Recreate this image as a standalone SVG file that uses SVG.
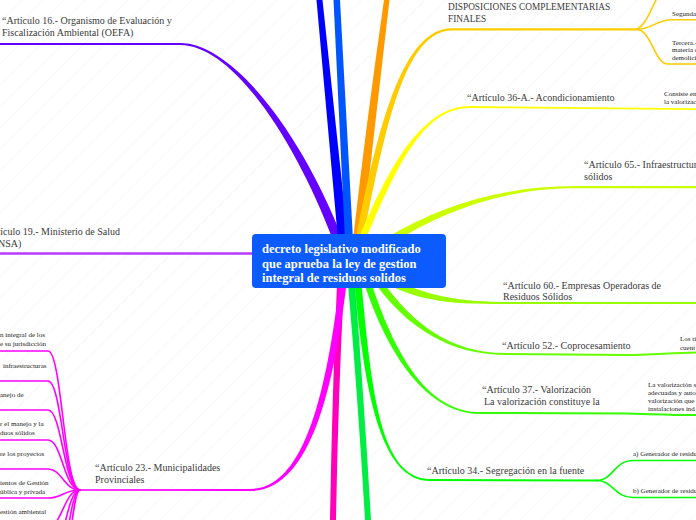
<svg xmlns="http://www.w3.org/2000/svg" width="696" height="520" viewBox="0 0 696 520">
<defs>
<pattern id="bg" width="15" height="15" patternUnits="userSpaceOnUse" patternTransform="rotate(45)">
<line x1="0" y1="0" x2="0" y2="15" stroke="#f4f4f4" stroke-width="1"/>
</pattern>
</defs>
<style>
.t{font-family:"Liberation Serif","Times New Roman",serif;font-size:10px;fill:#3a3a3a}
.s{font-family:"Liberation Serif","Times New Roman",serif;font-size:7px;fill:#222}
.c{font-family:"Liberation Serif","Times New Roman",serif;font-size:12.5px;font-weight:bold;fill:#fff}
.ln{fill:none;stroke-width:1.6;stroke-linecap:round}
.th{fill:none;stroke-width:2;stroke-linecap:butt}
</style>
<rect width="696" height="520" fill="#fff"/>
<rect width="696" height="520" fill="url(#bg)"/>
<g id="connectors">
<!-- Art 16 -->
<path d="M0,43 L180,43 C235,43 305,140 343,240 L333,240 C295,140 233,45 180,45 L0,45 Z" fill="#6400ff"/>
<!-- off-top branches -->
<path d="M316.5,0 L322.5,0 L348,240 L338,240 Z" fill="#0000ff"/>
<path d="M333.5,0 L340,0 L353,240 L345,240 Z" fill="#0055ff"/>
<path d="M384,0 L389.5,0 Q375,125 362,240 L353,240 Q366,125 384,0 Z" fill="#ff9900"/>
<!-- Disposiciones -->
<path d="M355.5,240 C378.5,124 403,28.3 452,28.3 L636,28.3 L636,30.5 L452,30.5 C405,30.5 385.5,126 363,240 Z" fill="#ffcc00"/>
<path class="ln" stroke="#ffcc00" d="M636,29.4 C645,26 650,12 656,0"/>
<path class="ln" stroke="#ffcc00" d="M636,29.4 C652,29.4 656,19.8 672,19.8 L696,19.8"/>
<path class="ln" stroke="#ffcc00" d="M636,29.4 C652,29.4 654,64 668,64 L696,64"/>
<!-- Art 36-A -->
<path d="M358.8,238.7 C391.8,158.7 425,106 470,106 L696,108.3 L696,109.9 L470,108 C425,108 398.2,161.3 365.2,241.3 Z" fill="#ffff00"/>
<!-- Art 65 -->
<path d="M388.2,237 C438.2,207 500,186 575,186 L696,186 L696,188.2 L575,188.2 C500,188.2 441.8,213 391.8,243 Z" fill="#ccff00"/>
<!-- Art 60 -->
<path d="M396.5,280.8 C431.5,296.8 460,302 510,302 L696,302 L696,304 L510,304 C460,304 428.5,303.2 393.5,287.2 Z" fill="#99ff00"/>
<!-- Art 52 -->
<path d="M382.8,281.9 C412.8,322.9 450,353 505,353 L505,355 C450,355 407.2,327.1 377.2,286.1 Z" fill="#66ff00"/>
<path class="th" stroke="#66ff00" d="M504,354 L625,355 C650,355 670,353 696,352.5"/>
<!-- Art 37 -->
<path d="M371.3,282.9 C393.3,348.9 425,412 480,412 L480,414 C425,414 386.7,351.1 364.7,285.1 Z" fill="#33ff00"/>
<path class="th" stroke="#33ff00" d="M479,413 L625,413.5 C650,414 670,415 696,415"/>
<!-- Art 34 -->
<path d="M361.5,284 C371.5,390 380,479 430,479 L598,479.5 L598,481.5 L430,481 C380,481 364.5,390 354.5,284 Z" fill="#00ff00"/>
<path class="ln" stroke="#00ff00" d="M597,480.5 C613,480.5 614,460.5 633,460.5 L696,460.5"/>
<path class="ln" stroke="#00ff00" d="M597,480.5 C613,480.5 614,497.5 633,497.5 L696,497.5"/>
<!-- downward branches -->
<path d="M348,284 L355,284 Q364,400 371,520 L365,520 Q358,400 348,284 Z" fill="#00ee44"/>
<path d="M337,284 L344,284 Q338,400 336,520 L330,520 Q332,400 337,284 Z" fill="#ff00bb"/>
<!-- Art 19 -->
<path d="M0,253.5 L255,253.5" stroke="#b43cff" stroke-width="2.6" fill="none"/>
<!-- Art 23 -->
<path d="M346.5,284 C333.5,390 310,491 250,491 L80,490.8 L80,489.2 L250,489 C305,489 326.5,390 339.5,284 Z" fill="#ff00ff"/>
<g stroke="#ff00ff" class="ln">
<path d="M80,490 C64,490 62,351 48,351 L0,351"/>
<path d="M80,490 C64,490 62,381 48,381 L0,381"/>
<path d="M80,490 C64,490 62,410 48,410 L0,410"/>
<path d="M80,490 C64,490 62,440 48,440 L0,440"/>
<path d="M80,490 C64,490 62,469 48,469 L0,469"/>
<path d="M80,490 C64,490 62,498 48,498 L0,498"/>
<path d="M80,490 C64,490 62,527 48,527 L0,527"/>
<path d="M80,490 C66,490 64,556 50,556 L0,556"/>
<path d="M80,490 C68,490 66,585 52,585 L0,585"/>
<path d="M80,490 C70,490 68,614 54,614 L0,614"/>
</g>
</g>
<g id="root">
<rect x="252" y="234" width="194" height="54" rx="4" fill="#0b5bff"/>
<text class="c" x="262" y="252.5">decreto legislativo modificado</text>
<text class="c" x="262" y="267.5">que aprueba la ley de gestion</text>
<text class="c" x="262" y="282">integral de residuos solidos</text>
</g>
<g id="n-art16">
<text class="t" x="2" y="24">“Artículo 16.- Organismo de Evaluación y</text>
<text class="t" x="2" y="36">Fiscalización Ambiental (OEFA)</text>
</g>
<g id="n-art19">
<text class="t" x="-17.5" y="235">“Artículo 19.- Ministerio de Salud</text>
<text class="t" x="-17.5" y="247">(MINSA)</text>
</g>
<g id="n-art23">
<text class="t" x="95" y="471">“Artículo 23.- Municipalidades</text>
<text class="t" x="95" y="482.5">Provinciales</text>
</g>
<g id="n-art23-children">
<text class="s" x="0" y="337">n integral de los</text>
<text class="s" x="0" y="345.5">e su jurisdicción</text>
<text class="s" x="3" y="367.5">infraestructuras</text>
<text class="s" x="0" y="396.5">anejo de</text>
<text class="s" x="0" y="426">r el manejo y la</text>
<text class="s" x="0" y="434.5">duos sólidos</text>
<text class="s" x="0" y="455.5">re los proyectos</text>
<text class="s" x="0" y="485">ientos de Gestión</text>
<text class="s" x="0" y="493.5">ública y privada</text>
<text class="s" x="0" y="513.5">estión ambiental</text>
</g>
<g id="n-disp">
<text class="t" x="448" y="10" style="font-size:9.3px">DISPOSICIONES COMPLEMENTARIAS</text>
<text class="t" x="448" y="22" style="font-size:9.3px">FINALES</text>
<text class="s" x="672" y="16">Segunda</text>
<text class="s" x="672" y="44.5">Tercera.-</text>
<text class="s" x="672" y="52">materia d</text>
<text class="s" x="672" y="59.5">demolici</text>
</g>
<g id="n-art36">
<text class="t" x="467" y="101">“Artículo 36-A.- Acondicionamiento</text>
<text class="s" x="664" y="95.5">Consiste en</text>
<text class="s" x="664" y="103.5">la valorizac</text>
</g>
<g id="n-art65">
<text class="t" x="584" y="168">“Artículo 65.- Infraestructuras</text>
<text class="t" x="584" y="180">sólidos</text>
</g>
<g id="n-art60">
<text class="t" x="503" y="288.5">“Artículo 60.- Empresas Operadoras de</text>
<text class="t" x="503" y="300">Residuos Sólidos</text>
</g>
<g id="n-art52">
<text class="t" x="502" y="348.5">“Artículo 52.- Coprocesamiento</text>
<text class="s" x="680" y="341">Los ti</text>
<text class="s" x="680" y="349.5">cuent</text>
</g>
<g id="n-art37">
<text class="t" x="482" y="393">“Artículo 37.- Valorización</text>
<text class="t" x="484" y="405">La valorización constituye la</text>
<text class="s" x="648" y="387">La valorización s</text>
<text class="s" x="648" y="395">adecuadas y auto</text>
<text class="s" x="648" y="403">valorización que</text>
<text class="s" x="648" y="411">instalaciones ind</text>
</g>
<g id="n-art34">
<text class="t" x="427" y="473.5">“Artículo 34.- Segregación en la fuente</text>
<text class="s" x="633" y="455.5">a) Generador de residu</text>
<text class="s" x="633" y="493">b) Generador de residu</text>
</g>
</svg>
